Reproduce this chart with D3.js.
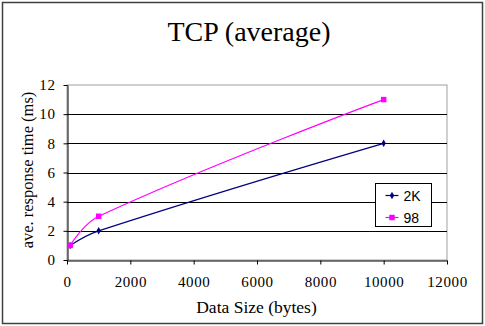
<!DOCTYPE html>
<html>
<head>
<meta charset="utf-8">
<script src="https://cdn.jsdelivr.net/npm/d3@7"></script>
<style>
  body { margin: 0; background: #fff; }
</style>
</head>
<body>
<div id="chart"></div>
<script>
const WIDTH  = 485;
const HEIGHT = 326;

const MARGIN = { left: 67, right: 38, top: 85, bottom: 66 };

const SIZES    = [100, 1000, 10000];
const TIME_2K  = [1, 2, 8];
const TIME_98  = [1, 3, 11];
const SERIES   = [
  { name: '2K', values: TIME_2K, color: '#000080', marker: 'diamond' },
  { name: '98', values: TIME_98, color: '#ff00ff', marker: 'square' }
];
const X_TICKS = [0, 2000, 4000, 6000, 8000, 10000, 12000];
const Y_TICKS = [0, 2, 4, 6, 8, 10, 12];

const SERIF = '"Liberation Serif", "Times New Roman", serif';
const SANS  = '"Liberation Sans", Arial, sans-serif';

var svg = d3.select('#chart').append('svg')
  .attr('width', WIDTH)
  .attr('height', HEIGHT);

// Outer frame
svg.append('rect')
  .attr('x', 2.5).attr('y', 2.5)
  .attr('width', WIDTH - 5).attr('height', HEIGHT - 5)
  .style('fill', '#fff')
  .style('stroke', '#404040')
  .style('stroke-width', 1.5);

var x = d3.scaleLinear()
  .domain([0, 12000])
  .range([MARGIN.left, WIDTH - MARGIN.right]);
var y = d3.scaleLinear()
  .domain([0, 12])
  .range([HEIGHT - MARGIN.bottom, MARGIN.top]);

// Spreadsheet-style smoothing: tangent at inner points follows the
// neighbours, its length limited by the segment it belongs to
function smooth(pts) {
  let p = d3.path();
  p.moveTo(pts[0][0], pts[0][1]);
  let dir = pts.map((d, i) => {
    if (i === 0 || i === pts.length - 1) return [0, 0];
    let dx = pts[i + 1][0] - pts[i - 1][0];
    let dy = pts[i + 1][1] - pts[i - 1][1];
    let len = Math.hypot(dx, dy);
    return [dx / len, dy / len];
  });
  for (let i = 0; i < pts.length - 1; i++) {
    let a = pts[i], b = pts[i + 1];
    let L = Math.hypot(b[0] - a[0], b[1] - a[1]) * 0.4;
    p.bezierCurveTo(
      a[0] + dir[i][0] * L, a[1] + dir[i][1] * L,
      b[0] - dir[i + 1][0] * L, b[1] - dir[i + 1][1] * L,
      b[0], b[1]);
  }
  return p.toString();
}

// Plot area border
svg.append('rect')
  .attr('x', x(0)).attr('y', y(12))
  .attr('width', x(12000) - x(0)).attr('height', y(0) - y(12))
  .style('fill', 'none')
  .style('stroke', '#a0a0a0')
  .style('stroke-width', 1);

// Gridlines
svg.selectAll('.grid')
    .data(Y_TICKS.filter(d => d > 0 && d < 12))
  .enter().append('line')
    .attr('class', 'grid')
    .attr('x1', x(0)).attr('x2', x(12000))
    .attr('y1', d => Math.round(y(d)) + 0.5)
    .attr('y2', d => Math.round(y(d)) + 0.5)
    .style('stroke', '#000')
    .style('stroke-width', 1);

// Axes
var xAxis = svg.append('g')
  .attr('transform', `translate(0,${Math.round(y(0)) + 0.5})`)
  .call(d3.axisBottom(x).tickValues(X_TICKS).tickFormat(d3.format('d'))
    .tickSize(4).tickPadding(12).tickSizeOuter(0));
var yAxis = svg.append('g')
  .attr('transform', `translate(${Math.round(x(0)) + 0.5},0)`)
  .call(d3.axisLeft(y).tickValues(Y_TICKS).tickSize(4).tickPadding(8).tickSizeOuter(0));

for (let a of [xAxis, yAxis]) {
  a.select('.domain').style('stroke', '#000');
  a.selectAll('line').style('stroke', '#000');
  a.selectAll('text')
    .style('font-family', SERIF)
    .style('font-size', '15px')
    .style('letter-spacing', '0.6px')
    .style('fill', '#000');
}

// Lines
for (let s of SERIES) {
  svg.append('path')
    .datum(s.values.map((d, i) => [x(SIZES[i]), y(d)]))
    .attr('d', smooth)
    .style('fill', 'none')
    .style('stroke', s.color)
    .style('stroke-width', 1.2);

  svg.selectAll(`.marker-${s.name}`)
      .data(s.values)
    .enter().append('path')
      .attr('transform', (d, i) => `translate(${x(SIZES[i])},${y(d)})`)
      .attr('d', d3.symbol()
        .type(s.marker === 'square' ? d3.symbolSquare : d3.symbolDiamond)
        .size(s.marker === 'square' ? 30 : 16))
      .style('fill', s.color);
}

// Legend
var legend = svg.append('g')
  .attr('transform', 'translate(375.5,183.5)');
legend.append('rect')
  .attr('width', 56).attr('height', 43)
  .style('fill', '#fff')
  .style('stroke', '#000')
  .style('stroke-width', 1);

SERIES.forEach((s, i) => {
  let g = legend.append('g')
    .attr('transform', `translate(0,${12 + i * 22})`);
  g.append('line')
    .attr('x1', 10).attr('x2', 23)
    .style('stroke', s.color)
    .style('stroke-width', 1.2);
  g.append('path')
    .attr('transform', 'translate(16.5,0)')
    .attr('d', d3.symbol()
      .type(s.marker === 'square' ? d3.symbolSquare : d3.symbolDiamond)
      .size(s.marker === 'square' ? 30 : 16))
    .style('fill', s.color);
  g.append('text')
    .attr('x', 28)
    .attr('y', 5)
    .text(s.name)
    .style('font-family', SANS)
    .style('font-size', '14px');
});

// Title and axis labels
svg.append('text')
  .attr('x', 249).attr('y', 41)
  .attr('text-anchor', 'middle')
  .text('TCP (average)')
  .style('font-family', SERIF)
  .style('font-size', '28px');

svg.append('text')
  .attr('x', 256.5).attr('y', 312.5)
  .attr('text-anchor', 'middle')
  .text('Data Size (bytes)')
  .style('font-family', SERIF)
  .style('font-size', '17.5px');

svg.append('text')
  .attr('transform', 'translate(33,170) rotate(-90)')
  .attr('text-anchor', 'middle')
  .text('ave. response time (ms)')
  .style('font-family', SERIF)
  .style('font-size', '16.5px');
</script>
</body>
</html>
